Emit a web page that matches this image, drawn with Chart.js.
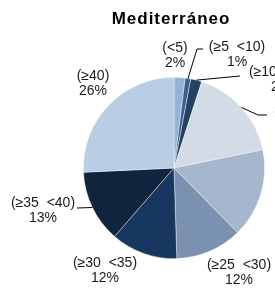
<!DOCTYPE html>
<html>
<head>
<meta charset="utf-8">
<script src="https://cdn.jsdelivr.net/npm/chart.js@4.4.0/dist/chart.umd.min.js"></script>
<style>
  body { margin: 0; background: #fff; }
</style>
</head>
<body>
<canvas id="myChart" width="275" height="300"></canvas>
<script>
// data
var categories = ['(<5)', '(≥5  <10)', '(≥10  <15)', '(≥15  <20)', '(≥20  <25)', '(≥25  <30)', '(≥30  <35)', '(≥35  <40)', '(≥40)'];
var values = [2, 1, 2, 17, 16, 12, 12, 13, 26];
var percentLabels = ['2%', '1%', '2%', '17%', '16%', '12%', '12%', '13%', '26%'];

var colors = ['#95b3d7', '#376092', '#254061', '#d3dbe6', '#a6b6cc', '#7a91b0', '#17375e', '#10243e', '#b9cde5'];

// label layout: text centre and leader waypoints
var labelPos = [
    { x: 175, y: 48 },
    { x: 237, y: 47, line: [[197, 49], [203, 49]] },
    { x: 281, y: 72, line: [[240, 76]] },
    { x: 306, y: 112, line: [[258, 115], [267, 115]] },
    { x: 308, y: 193 },
    { x: 239, y: 265 },
    { x: 105, y: 263 },
    { x: 43, y: 203, line: [[77, 208]] },
    { x: 93, y: 76 }
];

var labelPlugin = {
    id: 'pieLabels',
    afterDraw: function(chart) {
        var ctx = chart.ctx;
        var arcs = chart.getDatasetMeta(0).data;
        ctx.save();
        // title
        ctx.fillStyle = '#000';
        ctx.font = 'bold 17px "Liberation Sans", Arial, sans-serif';
        ctx.textAlign = 'center';
        ctx.textBaseline = 'middle';
        ctx.letterSpacing = '1px';
        ctx.fillText('Mediterráneo', 171, 19);
        ctx.letterSpacing = '0px';

        ctx.font = '14px "Liberation Sans", Arial, sans-serif';
        ctx.fillStyle = '#1a1a1a';
        ctx.strokeStyle = '#000';
        ctx.lineWidth = 1;
        for (var i = 0; i < arcs.length; i++) {
            var a = arcs[i];
            var p = labelPos[i];
            if (p.line) {
                var mid = (a.startAngle + a.endAngle) / 2;
                ctx.beginPath();
                ctx.moveTo(a.x + Math.cos(mid) * a.outerRadius, a.y + Math.sin(mid) * a.outerRadius);
                p.line.forEach(function(pt) { ctx.lineTo(pt[0], pt[1]); });
                ctx.stroke();
            }
            ctx.fillText(categories[i], p.x, p.y);
            ctx.fillText(percentLabels[i], p.x, p.y + 15);
        }
        ctx.restore();
    }
};

var ctx = document.getElementById('myChart').getContext('2d');
var chart = new Chart(ctx, {
    type: 'pie',
    data: {
        labels: categories,
        datasets: [{
            data: values,
            backgroundColor: colors,
            borderColor: 'rgba(255,255,255,0.6)',
            borderWidth: 0.7
        }]
    },
    options: {
        responsive: false,
        animation: false,
        layout: { padding: { left: 83, right: 10, top: 77, bottom: 41 } },
        plugins: {
            legend: { display: false },
            tooltip: { enabled: false }
        }
    },
    plugins: [labelPlugin]
});
</script>
</body>
</html>
